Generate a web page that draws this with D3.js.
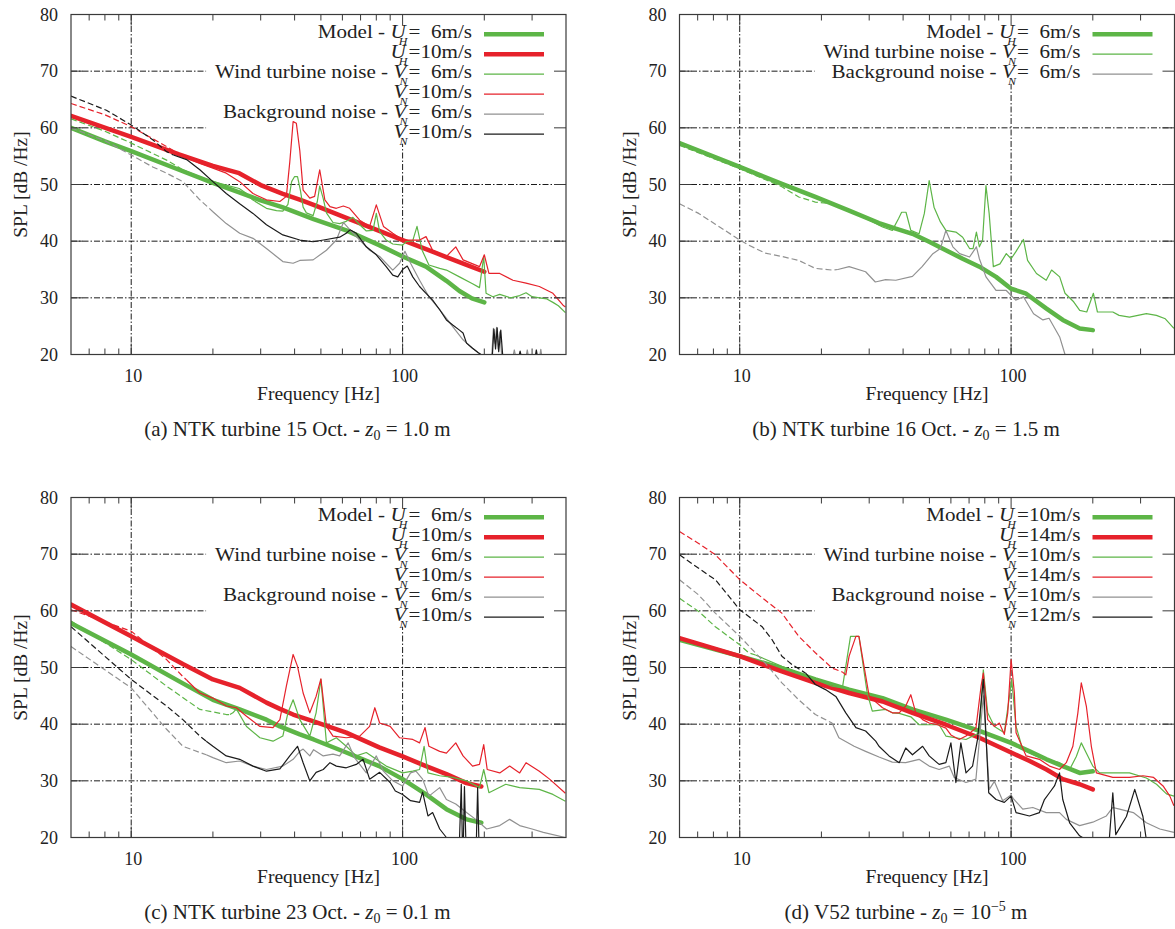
<!DOCTYPE html>
<html>
<head>
<meta charset="utf-8">
<script src="https://cdn.jsdelivr.net/npm/d3@7"></script>
<style>
  body { margin: 0; background: #fff; }
  svg text { font-family: "Liberation Serif", "Times New Roman", serif; fill: #222; white-space: pre; }
</style>
</head>
<body>
<svg id="fig" width="1175" height="929"></svg>
<script>
// ---- axes ----
const freqDomain = [6, 400];
const splDomain = [20, 80];
const splTicks = [20, 30, 40, 50, 60, 70, 80];
const freqLabelled = [10, 100];
const freqMinor = [7, 8, 9, 20, 30, 40, 50, 60, 70, 80, 90, 200, 300];

// ---- (a) NTK turbine 15 Oct. ----  [frequency Hz, SPL dB/Hz]
const aModel6 = [[6,60.0],[8,57.6],[10,55.9],[15,52.6],[20,50.3],[25,48.6],[30,47.2],[36,46.0],[47,43.9],[62,41.9],[82,39.3],[100,37.3],[122,35.5],[145,33.0],[162,31.2],[180,29.9],[200,29.2]];
const aModel10 = [[6,62.1],[10,58.4],[15,55.3],[20,53.3],[25,52.0],[30,49.9],[36,48.4],[42,47.3],[47,46.4],[62,44.1],[82,41.8],[100,40.2],[122,38.6],[145,37.2],[172,35.8],[200,34.6]];
const aTurbine6 = [[6,61.6],[8,59.4],[10,57.3],[13.5,54.3],[15.5,52.6],[18,51.3],[20,50.5],[22.4,49.9],[25,49.3],[26.6,48.4],[28,47.3],[31.5,45.8],[34.3,45.4],[36.2,45.3],[37.8,46.5],[39,50.5],[40,51.4],[41,51.4],[42,49],[43,46],[44.2,45],[46.8,44.5],[48.5,47],[49.5,49.7],[51,47.5],[52.4,45],[55.4,43.3],[58.6,43.1],[62,43.5],[65.6,44.2],[69.5,42.9],[73.5,41.8],[77.8,41.9],[80,44.9],[82.3,41.7],[87,40.2],[92,39.5],[100,39.3],[103,39.9],[109,40.1],[113,42.6],[118,38.4],[125,35.8],[137,35.2],[145,34.9],[162,33.7],[181,32.5],[192,31.8],[199,37.3],[203,30.8],[215,30.2],[228,30.6],[250,30.0],[270,30.4],[285,30.9],[300,30.2],[319,30.0],[340,29.8],[358,29.2],[375,28.6],[398,27.4]];
const aTurbine10 = [[6,64.3],[8,62.3],[10,60.2],[13.5,56.7],[15.5,55.0],[17.9,53.7],[20,52.9],[22.4,52.0],[25.1,50.5],[28.1,48.4],[31.5,47.3],[35.3,47.0],[37.3,47.9],[38.4,54.0],[39.5,61.1],[40.6,60.8],[41.8,56.0],[43,49.0],[45.5,47.6],[47.4,47.9],[49.5,52.6],[51.7,47.3],[54,46.1],[57,45.8],[60.5,46.2],[63.8,45.8],[69.5,43.7],[75.6,42.6],[80,46.4],[85,42.6],[92,41.4],[100,40.2],[109,40.2],[115.5,40.2],[122,40.8],[129,38.4],[145,37.3],[157,39.0],[167,36.7],[192,35.5],[200,37.6],[208,34.3],[228,34.3],[255,33.1],[285,32.6],[319,32.0],[358,30.8],[390,28.7],[398,28.4]];
const aBackground6 = [[6,60.0],[8.1,57.6],[10,55.2],[12,53.1],[13.5,52.0],[15.5,50.5],[17.9,47.3],[20,45.2],[22.4,43.1],[25.1,41.4],[28.1,40.5],[31.5,38.7],[34.3,37.3],[36.2,36.4],[39.5,36.1],[41.8,36.6],[46.8,36.7],[52.4,38.4],[57,40.2],[60.5,43.3],[64,42.0],[69.5,40.2],[75.6,38.4],[82.3,37.3],[92,34.9],[97.5,36.1],[102,38.2],[107,36.1],[115.5,33.1],[125,30.2],[137,27.9],[153,24.9],[167,22.6],[181,21.1],[192,20.2],[200,19.6],[213,19.6],[216,24.6],[219,22],[222,24.8],[225,21],[228,24],[232,19.6],[255,19.6],[258,20.8],[261,19.6],[285,19.6],[288,20.8],[291,19.6],[320,19.6],[323,20.9],[326,19.6],[398,19.6]];
const aBackground10 = [[6,65.6],[8.1,63.1],[10,60.5],[12,57.9],[13.5,55.8],[14.3,55.2],[16,54.4],[17.9,52.6],[20,50.5],[22.4,48.4],[25.1,46.6],[28.1,44.9],[31.5,42.9],[36.2,41.1],[41.8,40.2],[46.8,39.9],[52.4,40.3],[58.6,40.7],[62,41.4],[64,42.0],[67.5,41.4],[73.5,39.0],[80,37.6],[87,35.5],[92,34.0],[96,33.7],[100,35.0],[104,35.6],[109,33.7],[115.5,32.0],[122,30.8],[129,29.6],[137,27.9],[145,26.1],[153,25.2],[162,24.3],[167,23.8],[172,22.0],[181,21.1],[190,20.3],[200,19.6],[214,19.6],[217,24.5],[220,21],[223,24.7],[226,20.5],[230,24.3],[234,19.6],[268,19.6],[271,20.6],[274,19.6],[308,19.6],[311,20.8],[314,19.6],[398,19.6]];

// ---- (b) NTK turbine 16 Oct. ----
const bModel6 = [[6,57.3],[10,53.1],[14.3,50.1],[19,47.8],[25.3,45.4],[32.6,43.2],[37.6,42.2],[43.3,41.3],[49.9,39.9],[57.5,38.4],[66.3,36.9],[76.4,35.5],[88,33.7],[100,31.6],[113,30.8],[135,28.1],[155,26.1],[179,24.6],[200,24.3]];
const bTurbine6 = [[6,56.9],[10,52.8],[14.3,49.6],[16.5,47.8],[19,46.9],[21.9,46.6],[25.3,45.4],[26,45.2],[29.1,44.0],[33.6,42.5],[36.5,41.9],[38.5,44.0],[39.5,45.1],[41,45.1],[42.7,41.9],[45.8,41.3],[47.9,44.9],[49.9,50.7],[52,46.0],[54.9,43.4],[57.5,41.9],[62.6,41.6],[66.3,40.7],[70.3,38.7],[72.4,38.7],[74.5,41.6],[76.4,39.0],[78.5,40.2],[80.8,49.8],[83,44.9],[86,35.5],[91,36.0],[96,37.8],[100,36.9],[104,38.1],[111,40.3],[115,36.6],[124,34.3],[134.7,33.1],[141,34.9],[151,33.7],[158,30.8],[170,29.3],[179,27.8],[190,27.5],[201,30.8],[208,27.5],[237,27.5],[250,26.9],[273,26.6],[315,27.2],[343,26.9],[370,26.3],[398,24.6]];
const bBackground6 = [[6,46.6],[7.06,44.9],[8.13,43.0],[10,40.2],[10.8,39.3],[12.4,37.9],[14.3,37.3],[16.5,36.6],[19,35.2],[21.9,34.9],[23,35.0],[25.3,35.5],[29.1,34.6],[31.6,32.8],[34.5,33.2],[37.6,33.1],[43.3,33.8],[47,35.5],[51.5,37.8],[54.9,38.7],[57.5,41.9],[61,39.0],[64.6,37.8],[70.3,37.2],[74.5,39.0],[76.4,36.9],[80.8,33.7],[88,31.3],[96,31.3],[104,29.6],[111,30.2],[121,27.2],[131,26.1],[138,26.4],[151,23.1],[158,20.0],[165,19.5]];

// ---- (c) NTK turbine 23 Oct. ----
const cModel6 = [[6,57.8],[10,52.3],[15.5,47.2],[20,44.3],[25.1,42.6],[31.5,40.8],[35.3,39.6],[41.8,38.2],[47,37.3],[62,35.0],[82,32.6],[100,30.3],[122,27.6],[145,25.0],[172,23.2],[195,22.6]];
const cModel10 = [[6,61.1],[10,55.5],[15.5,50.6],[20,47.9],[25.1,46.4],[31.5,43.8],[35.3,42.7],[39.5,41.7],[47,40.5],[62,38.5],[82,35.9],[100,34.3],[122,32.6],[145,31.2],[172,29.6],[195,29.0]];
const cTurbine6 = [[6,58.2],[10,51.4],[13.5,46.7],[17.9,42.6],[22.4,41.7],[23.1,41.7],[23.7,42.0],[24.4,42.7],[26.6,39.6],[29.8,37.6],[33.3,37.0],[36.2,37.9],[37.8,42.0],[39.5,44.3],[41.8,40.8],[45.5,37.9],[48,42.0],[50,47.9],[52.4,36.7],[57,37.6],[62,36.1],[67.5,34.4],[73.5,35.0],[80,33.8],[87,32.6],[100,31.4],[109,31.7],[115.5,32.0],[120,36.1],[124,31.4],[137,30.9],[153,30.6],[172,30.0],[192,28.8],[199,32.0],[208,27.9],[240,29.4],[270,28.8],[319,28.5],[358,27.6],[398,26.4]];
const cTurbine10 = [[6,60.2],[10,56.4],[13.5,51.4],[15.5,48.4],[16,47.8],[17.9,45.5],[20,44.6],[22.4,43.2],[24.4,42.9],[26.6,41.4],[29.8,39.6],[33.3,39.4],[35.3,40.8],[37.3,46.7],[39.5,52.3],[41,50.2],[43,45.5],[45.5,42.0],[48,44.9],[50,48.0],[52.4,39.6],[55.4,37.9],[62,37.6],[69.5,37.9],[75.6,39.6],[79,42.9],[82.3,40.2],[90,39.6],[97.5,37.6],[109,37.3],[115.5,36.7],[121,39.4],[125,36.1],[137,35.2],[145,34.9],[157,36.7],[167,34.4],[181,32.6],[192,32.9],[199,36.4],[205,32.0],[228,31.4],[248,32.6],[270,31.4],[285,33.2],[319,31.7],[348,30.3],[398,27.8]];
const cBackground6 = [[6,53.7],[10,46.4],[13.5,39.1],[15.5,36.1],[17.9,35.0],[18.9,34.6],[20,34.1],[22.4,33.2],[25.1,33.5],[28.1,32.6],[31.5,32.0],[36.2,32.6],[39.5,33.8],[41.8,35.2],[43,35.6],[45.5,34.4],[47,35.5],[51,34.4],[55.4,34.7],[58.6,34.4],[63,36.7],[66.5,34.1],[73.5,31.4],[80,34.4],[85,31.7],[92,30.0],[100,29.1],[107,31.4],[112,31.7],[118.5,30.3],[125,27.3],[137,28.8],[145,26.7],[157,25.9],[172,24.4],[186,23.2],[204,21.5],[228,22.1],[248,23.2],[270,22.1],[300,21.5],[330,20.9],[398,20.0]];
const cBackground10 = [[6,57.2],[10,47.9],[13.5,43.2],[15.5,40.8],[17.9,37.9],[18.9,37.0],[20,36.1],[22.4,34.4],[25.1,33.8],[28.1,32.6],[31.5,31.7],[35.3,32.1],[38.4,34.4],[41,36.1],[43,33.2],[45.5,30.0],[48,31.5],[51,32.0],[54,33.2],[57,32.6],[62,32.3],[67.5,32.9],[71.5,33.8],[75.6,30.3],[82.3,31.5],[90,29.7],[94,28.2],[100,27.6],[107,26.5],[115.5,26.2],[118.5,28.0],[124,23.8],[129,24.4],[137,21.5],[145,20.0],[150,19.5],[162,19.5],[164.5,29.4],[166,19.5],[167.5,19.5],[169,29.0],[171,19.5],[187,19.5],[189,28.8],[191,19.5],[398,19.5]];

// ---- (d) V52 turbine ----
const dModel10 = [[6,54.9],[10,52.0],[14.3,49.9],[19,47.9],[25.3,46.1],[33.6,44.6],[43.3,42.6],[57.5,40.8],[76.4,38.8],[100,36.7],[117,35.2],[135,33.8],[155,32.6],[179,31.4],[200,31.7]];
const dModel14 = [[6,55.2],[10,52.0],[14.3,49.3],[19,47.3],[25.3,45.5],[33.6,44.0],[43.3,42.0],[57.5,39.9],[76.4,37.6],[100,35.0],[117,33.5],[135,32.0],[155,30.3],[179,29.4],[200,28.5]];
const dTurbine10 = [[6,62.2],[7.06,59.9],[8.13,57.2],[10,54.0],[10.8,52.6],[11.43,52.2],[14.3,50.2],[19,47.9],[21.9,46.7],[23.9,46.4],[25.6,55.5],[27.5,55.5],[29.5,45.5],[30.8,42.3],[34.5,42.6],[36.5,42.0],[38.7,41.9],[42.7,41.3],[45.8,39.9],[54.3,39.9],[57.5,37.9],[68.2,37.3],[76.4,38.5],[79,49.6],[82,42.0],[86.8,39.6],[94.4,38.5],[98.6,44.9],[100.5,47.9],[104.3,39.6],[110.4,35.5],[123.7,34.4],[134.7,33.8],[150.8,33.2],[164.3,32.0],[173.9,34.3],[181.4,36.7],[189.3,34.9],[200,32.6],[212,31.4],[237,31.4],[273,31.4],[315,30.5],[343.4,29.4],[373.7,27.7],[398,27.3]];
const dTurbine14 = [[6,74.0],[7.06,71.9],[8.13,69.9],[10,65.5],[12.4,61.9],[14.3,59.6],[16.5,55.5],[19,52.6],[21.9,49.9],[23.9,49.2],[24.6,48.7],[25.3,52.0],[26.8,55.5],[27.5,55.5],[30.0,44.9],[33.6,42.9],[36.5,42.0],[38.7,42.0],[40.9,43.2],[42.7,45.2],[44.6,41.9],[47.2,40.8],[49.9,40.2],[53.6,39.9],[57.5,39.3],[60,38.1],[64.4,37.3],[68.2,37.9],[74.2,39.3],[77.5,46.7],[79,49.0],[82,40.8],[86.8,39.6],[90.5,40.2],[94.4,38.2],[97.2,42.0],[100,51.4],[102.8,45.5],[104.3,38.5],[113.6,34.4],[127.2,33.8],[138.5,32.6],[150.8,32.0],[159.7,33.2],[168.9,36.1],[176.2,42.0],[181.4,47.3],[189.3,43.2],[197.5,36.1],[206.1,31.4],[237,30.6],[273,30.6],[306,30.9],[335,30.6],[363,29.1],[384.5,27.3],[398,25.6]];
const dBackground10 = [[6,65.5],[7.06,62.8],[8.13,59.6],[10,55.5],[12.4,50.8],[14.3,47.3],[16.5,44.3],[19,41.7],[21.9,40.2],[23.2,37.6],[26.4,36.1],[29.1,35.2],[32.6,34.2],[36.5,33.3],[40.9,33.2],[45.8,33.8],[49.9,32.6],[54.3,32.0],[59.2,32.6],[61.7,30.6],[68.2,29.7],[74.2,30.3],[79,45.0],[83.1,28.5],[86.8,29.9],[93.1,26.5],[100,27.5],[101.7,26.9],[110.4,25.0],[120.2,25.3],[134.7,24.4],[150.8,24.4],[159.7,23.2],[178.8,22.1],[200,22.7],[224.4,23.8],[237,25.3],[251,25.0],[282,24.4],[315,22.6],[353,21.5],[398,20.9]];
const dBackground12 = [[6,69.9],[7.06,67.5],[7.68,66.3],[8.13,65.5],[9.37,61.9],[10,60.2],[10.8,59.0],[12.09,57.2],[13.16,54.9],[14.3,52.0],[15.6,50.5],[17.5,49.0],[19,47.0],[20.7,46.1],[22.6,44.9],[24.6,42.0],[26.8,39.4],[29.1,38.8],[31.7,37.0],[32.6,36.1],[35.5,34.4],[38.7,33.2],[40.9,35.8],[43.3,34.6],[47.2,36.1],[49.9,34.4],[54.3,32.9],[57.5,33.2],[60,36.7],[62.6,29.7],[65.3,36.7],[68.2,31.4],[72.1,32.6],[75.2,37.3],[79,47.9],[82.7,27.9],[88,26.7],[94.4,26.2],[100,27.3],[104.3,24.4],[116.8,23.8],[127.2,24.4],[132.7,26.7],[138.5,27.9],[144.5,29.1],[150.8,31.4],[155,26.7],[164.3,22.6],[178.8,20.3],[189.3,19.6],[230,19.6],[237,27.9],[243,20.5],[266,23.7],[285.5,28.5],[306,23.7],[315,19.6],[398,19.6]];

// ---- styling ----
const GREEN = "#5db547", RED = "#e6222b", GRAY = "#919191", BLACK = "#1b1b1b";
const THICK = 4.5, THIN = 1.2;

const W = 495, H = 340;

const panels = [
  { left: 71, top: 14.5, caption: ["(a) NTK turbine 15 Oct. - ", "1.0 m", null],
    series: [
      { data: aModel6, color: GREEN, width: THICK, pre: "Model - ", sym: "U", sub: "H", val: "=  6m/s" },
      { data: aModel10, color: RED, width: THICK, pre: "", sym: "U", sub: "H", val: "=10m/s" },
      { data: aTurbine6, color: GREEN, width: THIN, dashBelow: 15.5, pre: "Wind turbine noise - ", sym: "V", sub: "N", val: "=  6m/s" },
      { data: aTurbine10, color: RED, width: THIN, dashBelow: 15.5, pre: "", sym: "V", sub: "N", val: "=10m/s" },
      { data: aBackground6, color: GRAY, width: THIN, dashBelow: 20, pre: "Background noise - ", sym: "V", sub: "N", val: "=  6m/s" },
      { data: aBackground10, color: BLACK, width: THIN, dashBelow: 14.3, pre: "", sym: "V", sub: "N", val: "=10m/s" }
    ] },
  { left: 679.5, top: 14.5, caption: ["(b) NTK turbine 16 Oct. - ", "1.5 m", null],
    series: [
      { data: bModel6, color: GREEN, width: THICK, pre: "Model - ", sym: "U", sub: "H", val: "=  6m/s" },
      { data: bTurbine6, color: GREEN, width: THIN, dashBelow: 26, pre: "Wind turbine noise - ", sym: "V", sub: "N", val: "=  6m/s" },
      { data: bBackground6, color: GRAY, width: THIN, dashBelow: 23, pre: "Background noise - ", sym: "V", sub: "N", val: "=  6m/s" }
    ] },
  { left: 71, top: 497.5, caption: ["(c) NTK turbine 23 Oct. - ", "0.1 m", null],
    series: [
      { data: cModel6, color: GREEN, width: THICK, pre: "Model - ", sym: "U", sub: "H", val: "=  6m/s" },
      { data: cModel10, color: RED, width: THICK, pre: "", sym: "U", sub: "H", val: "=10m/s" },
      { data: cTurbine6, color: GREEN, width: THIN, dashBelow: 23.1, pre: "Wind turbine noise - ", sym: "V", sub: "N", val: "=  6m/s" },
      { data: cTurbine10, color: RED, width: THIN, dashBelow: 16, pre: "", sym: "V", sub: "N", val: "=10m/s" },
      { data: cBackground6, color: GRAY, width: THIN, dashBelow: 18.9, pre: "Background noise - ", sym: "V", sub: "N", val: "=  6m/s" },
      { data: cBackground10, color: BLACK, width: THIN, dashBelow: 18.9, pre: "", sym: "V", sub: "N", val: "=10m/s" }
    ] },
  { left: 679.5, top: 497.5, caption: ["(d) V52 turbine - ", "10", "\u22125"],
    series: [
      { data: dModel10, color: GREEN, width: THICK, pre: "Model - ", sym: "U", sub: "H", val: "=10m/s" },
      { data: dModel14, color: RED, width: THICK, pre: "", sym: "U", sub: "H", val: "=14m/s" },
      { data: dTurbine10, color: GREEN, width: THIN, dashBelow: 11.43, pre: "Wind turbine noise - ", sym: "V", sub: "N", val: "=10m/s" },
      { data: dTurbine14, color: RED, width: THIN, dashBelow: 23.9, pre: "", sym: "V", sub: "N", val: "=14m/s" },
      { data: dBackground10, color: GRAY, width: THIN, dashBelow: 21.9, pre: "Background noise - ", sym: "V", sub: "N", val: "=10m/s" },
      { data: dBackground12, color: BLACK, width: THIN, dashBelow: 17.5, pre: "", sym: "V", sub: "N", val: "=12m/s" }
    ] }
];

const svg = d3.select("#fig");
const x = d3.scaleLog().domain(freqDomain).range([0, W]);
const y = d3.scaleLinear().domain(splDomain).range([H, 0]);
const line = d3.line().x(d => x(d[0])).y(d => y(d[1]));

const FRAME = "#3a3a3a";
const GRID_DASH = "6,2,1.5,2";
const KEY_STRETCH = 1.14;   // key lettering is set slightly wide

panels.forEach((p, pi) => {
  const g = svg.append("g").attr("transform", `translate(${p.left},${p.top})`);
  const clipId = "plotclip" + pi;
  g.append("clipPath").attr("id", clipId)
    .append("rect").attr("width", W).attr("height", H);

  const gridG = g.append("g");
  const boxG = g.append("g");
  const dataG = g.append("g").attr("clip-path", `url(#${clipId})`);
  const keyG = g.append("g");
  const axisG = g.append("g");

  // dash-dot grid at the labelled values
  splTicks.filter(v => v > splDomain[0] && v < splDomain[1]).forEach(v => {
    gridG.append("line").attr("x1", 0).attr("x2", W).attr("y1", y(v)).attr("y2", y(v))
      .attr("stroke", "#000").attr("stroke-width", 0.9).attr("stroke-dasharray", GRID_DASH);
  });
  freqLabelled.forEach(f => {
    gridG.append("line").attr("x1", x(f)).attr("x2", x(f)).attr("y1", 0).attr("y2", H)
      .attr("stroke", "#000").attr("stroke-width", 0.9).attr("stroke-dasharray", GRID_DASH);
  });

  // spectra: the low-frequency part of each measured spectrum is dashed
  p.series.forEach(s => {
    if (s.dashBelow) {
      const k = s.data.findIndex(d => d[0] >= s.dashBelow);
      dataG.append("path").attr("d", line(s.data.slice(0, k + 1)))
        .attr("fill", "none").attr("stroke", s.color).attr("stroke-width", s.width)
        .attr("stroke-dasharray", "6,3").attr("stroke-linejoin", "round");
      dataG.append("path").attr("d", line(s.data.slice(k)))
        .attr("fill", "none").attr("stroke", s.color).attr("stroke-width", s.width)
        .attr("stroke-linejoin", "round");
    } else {
      dataG.append("path").attr("d", line(s.data))
        .attr("fill", "none").attr("stroke", s.color).attr("stroke-width", s.width)
        .attr("stroke-linejoin", "round").attr("stroke-linecap", "round");
    }
  });

  // key
  const keyRight = W - 94;
  let minX = W;
  p.series.forEach((s, i) => {
    const yc = 19.7 + 20 * i;
    const t = keyG.append("text")
      .attr("transform", `translate(${keyRight},${yc + 3.5}) scale(${KEY_STRETCH},1)`)
      .attr("text-anchor", "end").attr("font-size", 18.5);
    if (s.pre) t.append("tspan").text(s.pre);
    t.append("tspan").attr("font-style", "italic").text(s.sym);
    t.append("tspan").attr("font-style", "italic").attr("font-size", 10.5)
      .attr("dx", -6).attr("dy", 7.5).text(s.sub);
    t.append("tspan").attr("dx", 1).attr("dy", -7.5).text(s.val);
    const bb = t.node().getBBox();
    minX = Math.min(minX, keyRight + bb.x * KEY_STRETCH);
    keyG.append("line").attr("x1", W - 82).attr("x2", W - 22).attr("y1", yc).attr("y2", yc)
      .attr("stroke", s.color).attr("stroke-width", s.width);
  });
  const keyBottom = 19.7 + 20 * (p.series.length - 1) + 9;
  boxG.append("rect").attr("x", minX - 9).attr("y", 0.5)
    .attr("width", W - (minX - 9)).attr("height", keyBottom).attr("fill", "#fff");

  // tick marks on all four sides
  const tick = (x1, y1, x2, y2) => axisG.append("line")
    .attr("x1", x1).attr("y1", y1).attr("x2", x2).attr("y2", y2)
    .attr("stroke", FRAME).attr("stroke-width", 1);
  freqMinor.forEach(f => { tick(x(f), H, x(f), H - 6); tick(x(f), 0, x(f), 6); });
  freqLabelled.forEach(f => { tick(x(f), H, x(f), H - 11); tick(x(f), 0, x(f), 11); });
  splTicks.filter(v => v > splDomain[0] && v < splDomain[1]).forEach(v => {
    tick(0, y(v), 12, y(v)); tick(W, y(v), W - 12, y(v));
  });
  axisG.append("rect").attr("width", W).attr("height", H)
    .attr("fill", "none").attr("stroke", FRAME).attr("stroke-width", 1.2);

  // tick labels
  splTicks.forEach(v => {
    axisG.append("text").attr("x", -13).attr("y", y(v)).attr("dy", "0.35em")
      .attr("text-anchor", "end").attr("font-size", 18).text(v);
  });
  freqLabelled.forEach(f => {
    axisG.append("text").attr("x", x(f) + 2).attr("y", H + 27.5)
      .attr("text-anchor", "middle").attr("font-size", 18).text(f);
  });

  // axis titles
  axisG.append("text").attr("x", W / 2).attr("y", H + 45.5)
    .attr("text-anchor", "middle").attr("font-size", 19.5).text("Frequency [Hz]");
  axisG.append("text").attr("transform", `translate(-44,${H / 2}) rotate(-90)`)
    .attr("text-anchor", "middle").attr("font-size", 19.5).text("SPL [dB /Hz]");

  // sub-figure caption
  const cap = axisG.append("text").attr("x", W / 2 - 21).attr("y", 421.5)
    .attr("text-anchor", "middle").attr("font-size", 21);
  cap.append("tspan").text(p.caption[0]);
  cap.append("tspan").attr("font-style", "italic").text("z");
  cap.append("tspan").attr("font-size", 14).attr("dy", 4).text("0");
  cap.append("tspan").attr("dy", -4).text(" = " + p.caption[1]);
  if (p.caption[2]) {
    cap.append("tspan").attr("font-size", 14).attr("dy", -8).text(p.caption[2]);
    cap.append("tspan").attr("dy", 8).text(" m");
  }
});
</script>
</body>
</html>
